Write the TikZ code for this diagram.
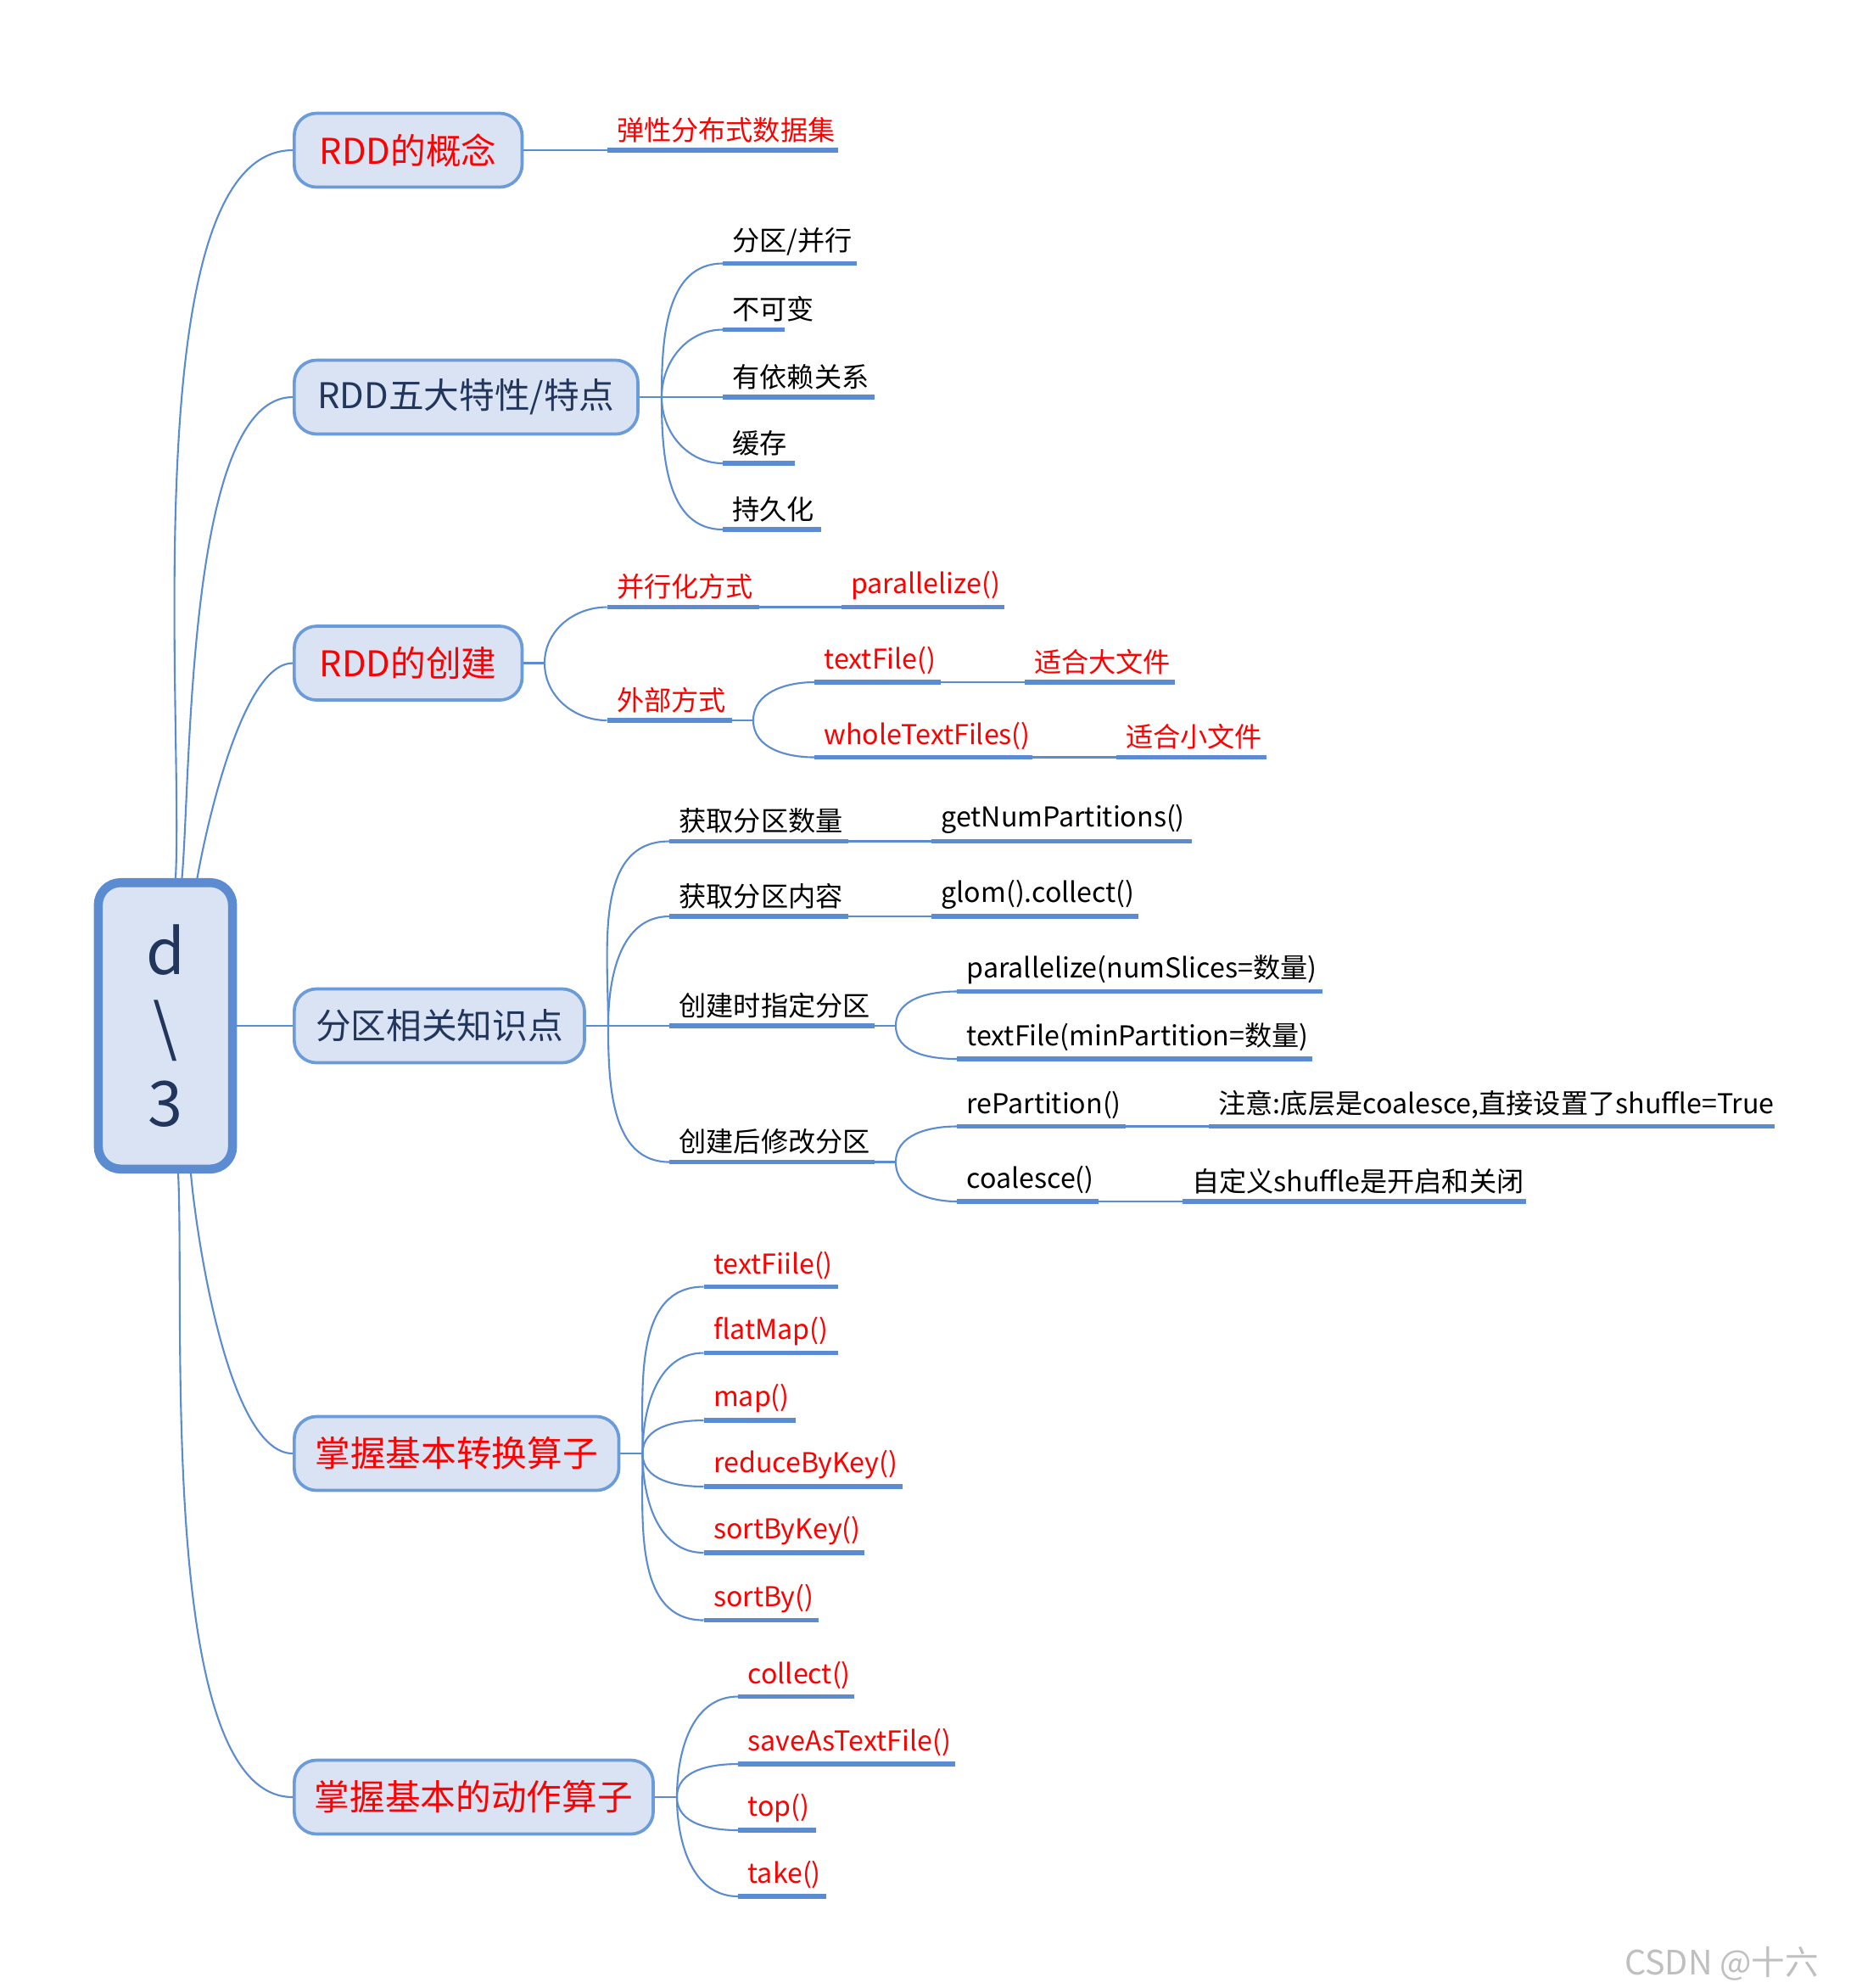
\documentclass[tikz,border=0pt]{standalone}
\usepackage{fontspec}
\setmainfont{Noto Sans CJK SC}
\usetikzlibrary{calc,positioning}
\definecolor{boxfill}{HTML}{DAE3F3}
\definecolor{boxline}{HTML}{6B9BD8}
\definecolor{lineblue}{HTML}{5B8BD0}
\definecolor{navy}{HTML}{22365C}
\definecolor{leafred}{HTML}{FF0000}
\tikzset{
  branch/.style={draw=boxline, line width=0.7pt, fill=boxfill, rounded corners=5pt,
    anchor=west, minimum height=16.5pt, minimum width={(#1)*0.2845pt},
    align=left, inner xsep=3pt, font=\fontsize{7.9}{10}\selectfont},
  leaf/.style={anchor=south west, inner xsep=2pt, inner ysep=1.5pt,
    text width={(#1)*0.2845pt-4pt}, align=left, font=\fontsize{6.1}{8}\selectfont,
    append after command={(\tikzlastnode.south west) edge[uline] (\tikzlastnode.south east)}},
  uline/.style={draw=lineblue, line width=1.1pt},
  conn/.style={draw=lineblue, line width=0.4pt},
  trunk/.style={out=#1, in=180, looseness=0.55},
}
\begin{document}
\begin{tikzpicture}[x=0.01cm, y=-0.01cm]
    \useasboundingbox (0,0) rectangle (1463,1562);

    % center
    \node[draw=lineblue, line width=2pt, fill=boxfill, rounded corners=5pt, text=navy,
      minimum width=30pt, minimum height=64pt, align=center,
      font=\fontsize{14}{17}\selectfont] (ctr) at (130,806) {d\\\textbackslash\\3};

    % branches
    \node[branch=179, text=leafred] (b1) at (230,118) {RDD的概念};
    \node[branch=270, text=navy]    (b2) at (230,312) {RDD五大特性/特点};
    \node[branch=179, text=leafred] (b3) at (230,521) {RDD的创建};
    \node[branch=228, text=navy]    (b4) at (230,806) {分区相关知识点};
    \node[branch=255, text=leafred] (b5) at (230,1142) {掌握基本转换算子};
    \node[branch=282, text=leafred] (b6) at (230,1412) {掌握基本的动作算子};

    \draw[conn] ($(ctr.north)+(8,0)$) to[trunk=87] (b1.west);
    \draw[conn] ($(ctr.north)+(13,0)$) to[trunk=85] (b2.west);
    \draw[conn] ($(ctr.north)+(25,0)$) to[trunk=80] (b3.west);
    \draw[conn] (ctr.east) -- (b4.west);
    \draw[conn] ($(ctr.south)+(20,0)$) to[trunk=-85] (b5.west);
    \draw[conn] ($(ctr.south)+(10,0)$) to[trunk=-87] (b6.west);

    % RDD的概念
    \node[leaf=180, text=leafred] (l11) at (477,118) {弹性分布式数据集};
    \draw[conn] (b1.east) -- (l11.south west);

    % 五大特性
    \coordinate (o2) at (520,312);
    \draw[conn] (b2.east) -- (o2);
    \node[leaf=104] (l21) at (568,207) {分区/并行};
    \node[leaf=47]  (l22) at (568,259) {不可变};
    \node[leaf=118] (l23) at (568,312) {有依赖关系};
    \node[leaf=55]  (l24) at (568,364) {缓存};
    \node[leaf=76]  (l25) at (568,416) {持久化};
    \foreach \n in {l21,l22} \draw[conn] (o2) to[out=90,in=180] (\n.south west);
    \draw[conn] (o2) -- (l23.south west);
    \foreach \n in {l24,l25} \draw[conn] (o2) to[out=-90,in=180] (\n.south west);

    % 创建
    \coordinate (o3) at (428,521);
    \draw[conn] (b3.east) -- (o3);
    \node[leaf=118, text=leafred] (l31) at (477,477) {并行化方式};
    \node[leaf=127, text=leafred] (l32) at (661,477) {parallelize()};
    \node[leaf=97,  text=leafred] (l33) at (477,566) {外部方式};
    \draw[conn] (o3) to[out=90,in=180] (l31.south west);
    \draw[conn] (o3) to[out=-90,in=180] (l33.south west);
    \draw[conn] (l31.south east) -- (l32.south west);
    \coordinate (o33) at (592,566);
    \draw[conn] (l33.south east) -- (o33);
    \node[leaf=98,  text=leafred] (l34) at (640,536) {textFile()};
    \node[leaf=170, text=leafred] (l35) at (640,595) {wholeTextFiles()};
    \node[leaf=117, text=leafred] (l36) at (805,536) {适合大文件};
    \node[leaf=117, text=leafred] (l37) at (877,595) {适合小文件};
    \draw[conn] (o33) to[out=90,in=180] (l34.south west);
    \draw[conn] (o33) to[out=-90,in=180] (l35.south west);
    \draw[conn] (l34.south east) -- (l36.south west);
    \draw[conn] (l35.south east) -- (l37.south west);

    % 分区
    \coordinate (o4) at (478,806);
    \draw[conn] (b4.east) -- (o4);
    \node[leaf=139] (l41) at (526,661) {获取分区数量};
    \node[leaf=203] (l42) at (732,661) {getNumPartitions()};
    \node[leaf=139] (l43) at (526,720) {获取分区内容};
    \node[leaf=161] (l44) at (732,720) {glom().collect()};
    \node[leaf=160] (l45) at (526,806) {创建时指定分区};
    \node[leaf=160] (l46) at (526,913) {创建后修改分区};
    \foreach \n in {l41,l43} \draw[conn] (o4) to[out=90,in=180] (\n.south west);
    \draw[conn] (o4) -- (l45.south west);
    \draw[conn] (o4) to[out=-90,in=180] (l46.south west);
    \draw[conn] (l41.south east) -- (l42.south west);
    \draw[conn] (l43.south east) -- (l44.south west);
    \coordinate (o45) at (704,806);
    \draw[conn] (l45.south east) -- (o45);
    \node[leaf=286] (l47) at (752,779) {parallelize(numSlices=数量)};
    \node[leaf=278] (l48) at (752,832) {textFile(minPartition=数量)};
    \draw[conn] (o45) to[out=90,in=180] (l47.south west);
    \draw[conn] (o45) to[out=-90,in=180] (l48.south west);
    \coordinate (o46) at (704,913);
    \draw[conn] (l46.south east) -- (o46);
    \node[leaf=131] (l49) at (752,885) {rePartition()};
    \node[leaf=443] (l50) at (950,885) {注意:底层是coalesce,直接设置了shuffle=True};
    \node[leaf=110] (l51) at (752,944) {coalesce()};
    \node[leaf=269] (l52) at (929,944) {自定义shuffle是开启和关闭};
    \draw[conn] (o46) to[out=90,in=180] (l49.south west);
    \draw[conn] (o46) to[out=-90,in=180] (l51.south west);
    \draw[conn] (l49.south east) -- (l50.south west);
    \draw[conn] (l51.south east) -- (l52.south west);

    % 转换算子
    \coordinate (o5) at (505,1142);
    \draw[conn] (b5.east) -- (o5);
    \node[leaf=104, text=leafred] (l61) at (553,1011) {textFiile()};
    \node[leaf=104, text=leafred] (l62) at (553,1063) {flatMap()};
    \node[leaf=71,  text=leafred] (l63) at (553,1116) {map()};
    \node[leaf=155, text=leafred] (l64) at (553,1168) {reduceByKey()};
    \node[leaf=125, text=leafred] (l65) at (553,1220) {sortByKey()};
    \node[leaf=89,  text=leafred] (l66) at (553,1273) {sortBy()};
    \foreach \n in {l61,l62,l63} \draw[conn] (o5) to[out=90,in=180] (\n.south west);
    \foreach \n in {l64,l65,l66} \draw[conn] (o5) to[out=-90,in=180] (\n.south west);

    % 动作算子
    \coordinate (o6) at (532,1412);
    \draw[conn] (b6.east) -- (o6);
    \node[leaf=90,  text=leafred] (l71) at (580,1333) {collect()};
    \node[leaf=169, text=leafred] (l72) at (580,1386) {saveAsTextFile()};
    \node[leaf=60,  text=leafred] (l73) at (580,1438) {top()};
    \node[leaf=68,  text=leafred] (l74) at (580,1490) {take()};
    \foreach \n in {l71,l72} \draw[conn] (o6) to[out=90,in=180] (\n.south west);
    \foreach \n in {l73,l74} \draw[conn] (o6) to[out=-90,in=180] (\n.south west);

    \node[text=black!25, font=\fontsize{7.5}{9}\selectfont] (wm) at (1353,1543) {CSDN @十六};
\end{tikzpicture}
\end{document}
